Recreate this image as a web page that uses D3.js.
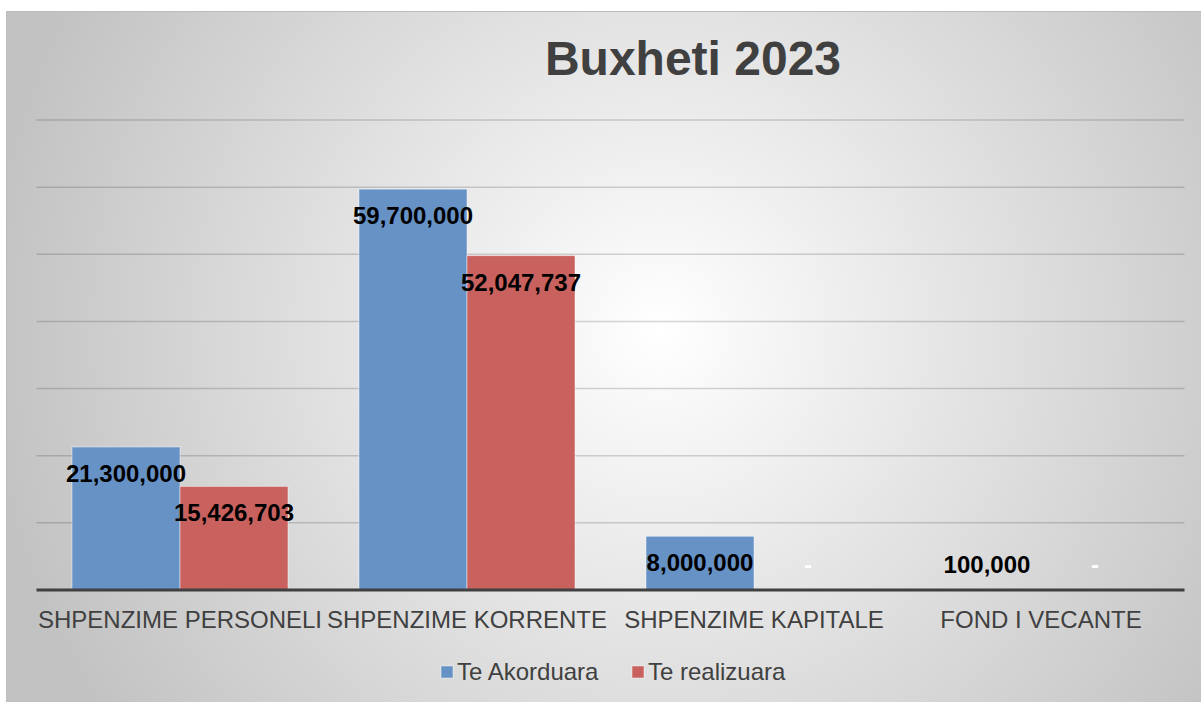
<!DOCTYPE html>
<html>
<head>
<meta charset="utf-8">
<script src="https://cdn.jsdelivr.net/npm/d3@7"></script>
<style>
  body { margin: 0; background: #fff; }
  text { font-family: "Liberation Sans", Arial, sans-serif; }
</style>
</head>
<body>
<svg id="svg" width="1201" height="702"></svg>
<script>
var categories = ["SHPENZIME PERSONELI", "SHPENZIME KORRENTE", "SHPENZIME KAPITALE", "FOND I VECANTE"];
var series = ["Te Akorduara", "Te realizuara"];
var colors = ["#6692c6", "#c9625f"];

// bar heights
var akorduara = [21300000, 59700000, 8000000, 100000];
var realizuara = [15426703, 49800000, 0, 0];

// label text as printed on the picture
var akorduaraLabels = ["21,300,000", "59,700,000", "8,000,000", "100,000"];
var realizuaraLabels = ["15,426,703", "52,047,737", "-", "-"];

var yTicks = [0, 10000000, 20000000, 30000000, 40000000, 50000000, 60000000, 70000000];

var svg = d3.select("#svg");

// background gradient
var grad = svg.append("defs").append("radialGradient")
    .attr("id", "bg")
    .attr("gradientUnits", "userSpaceOnUse")
    .attr("cx", 660).attr("cy", 330).attr("r", 680);
grad.append("stop").attr("offset", "0%").attr("stop-color", "#ffffff");
grad.append("stop").attr("offset", "100%").attr("stop-color", "#c2c2c2");

svg.append("rect")
    .attr("x", 6.5).attr("y", 11.5)
    .attr("width", 1210).attr("height", 700)
    .attr("fill", "url(#bg)")
    .attr("stroke", "#bdbdbd")
    .attr("stroke-width", 1);

var x = d3.scaleBand().domain(categories).range([36.5, 1184.5]).padding(0);
var xs = d3.scaleBand().domain(series).range([35.5, x.bandwidth() - 35.5]).padding(0);
var y = d3.scaleLinear().domain([0, 70000000]).range([590, 120]);

// gridlines
svg.append("g").selectAll("line").data(yTicks.slice(1)).enter()
  .append("line")
    .attr("x1", 36.5).attr("x2", 1184.5)
    .attr("y1", function(d) { return y(d); })
    .attr("y2", function(d) { return y(d); })
    .attr("stroke", "#000")
    .attr("stroke-opacity", 0.16)
    .attr("stroke-width", 1.5);

// bars
var rows = [
  { name: series[0], values: akorduara, labels: akorduaraLabels },
  { name: series[1], values: realizuara, labels: realizuaraLabels }
];

rows.forEach(function(s, si) {
  var g = svg.append("g");
  g.selectAll("rect").data(s.values).enter()
    .append("rect")
      .attr("x", function(d, i) { return x(categories[i]) + xs(s.name); })
      .attr("y", function(d) { return y(d); })
      .attr("width", xs.bandwidth())
      .attr("height", function(d) { return y(0) - y(d); })
      .attr("fill", colors[si])
      .attr("stroke", "rgba(255,255,255,0.45)")
      .attr("stroke-width", function(d) { return d > 0 ? 1 : 0; });
});

// baseline
svg.append("line")
    .attr("x1", 36.5).attr("x2", 1184.5)
    .attr("y1", y(0)).attr("y2", y(0))
    .attr("stroke", "#404040")
    .attr("stroke-width", 3);

// data labels
rows.forEach(function(s, si) {
  svg.append("g").selectAll("text").data(s.labels).enter()
    .append("text")
      .attr("x", function(d, i) { return x(categories[i]) + xs(s.name) + xs.bandwidth() / 2; })
      .attr("y", function(d, i) { return Math.min(y(s.values[i]) + 35, 573); })
      .attr("text-anchor", "middle")
      .attr("font-size", 24)
      .attr("font-weight", "bold")
      .attr("fill", function(d) { return d == "-" ? "#ffffff" : "#000000"; })
      .text(function(d) { return d; });
});

// category labels
svg.append("g").selectAll("text").data(categories).enter()
  .append("text")
    .attr("x", function(d) { return x(d) + x.bandwidth() / 2; })
    .attr("y", 628)
    .attr("text-anchor", "middle")
    .attr("font-size", 24)
    .attr("fill", "#404040")
    .text(function(d) { return d; });

// title
svg.append("text")
    .attr("x", 693).attr("y", 75)
    .attr("text-anchor", "middle")
    .attr("font-size", 48)
    .attr("font-weight", "bold")
    .attr("fill", "#404040")
    .text("Buxheti 2023");

// legend
var legendX = [441, 632];
var legend = svg.append("g").selectAll("g").data(series).enter()
  .append("g")
    .attr("transform", function(d, i) { return "translate(" + legendX[i] + ",0)"; });
legend.append("rect")
    .attr("x", 0).attr("y", 666)
    .attr("width", 12).attr("height", 12)
    .attr("fill", function(d, i) { return colors[i]; })
    .attr("stroke", "rgba(255,255,255,0.45)");
legend.append("text")
    .attr("x", 16).attr("y", 680)
    .attr("font-size", 24)
    .attr("fill", "#404040")
    .text(function(d) { return d; });
</script>
</body>
</html>
